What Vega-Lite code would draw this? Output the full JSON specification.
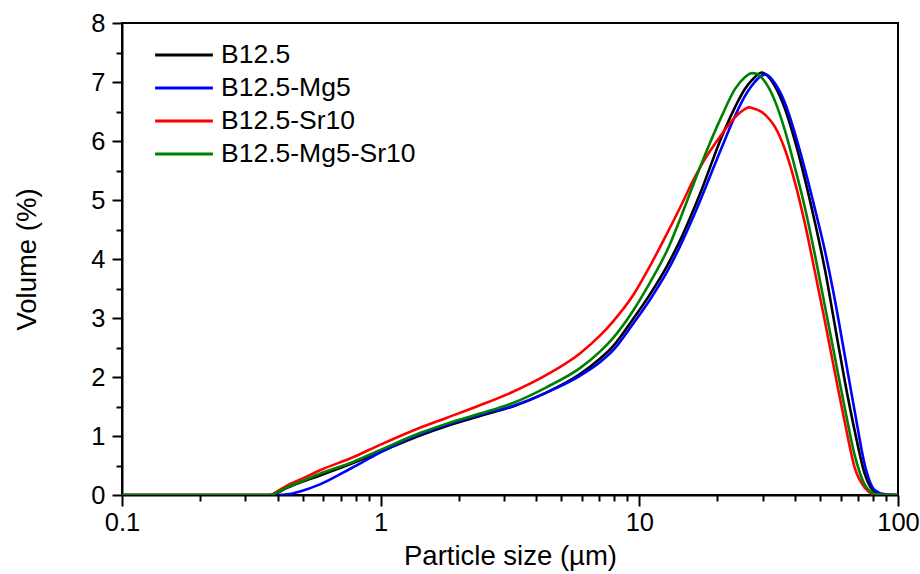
{
  "$schema": "https://vega.github.io/schema/vega-lite/v6.json",
  "width": 776,
  "height": 472,
  "autosize": {"type": "none"},
  "padding": {"left": 122, "top": 23, "right": 22, "bottom": 79},
  "background": "white",
  "config": {
    "font": "Liberation Sans",
    "view": {"stroke": "black", "strokeWidth": 2},
    "axis": {
      "domainColor": "black", "domainWidth": 2, "tickColor": "black", "tickWidth": 2,
      "labelColor": "black", "labelFontSize": 25.5, "labelFont": "Liberation Sans",
      "titleColor": "black", "titleFontSize": 27.5, "titleFontWeight": "normal", "titleFont": "Liberation Sans",
      "grid": false, "labelFlush": false, "labelOverlap": false
    }
  },
  "datasets": {
    "psd": [
      {"sample": "B12.5", "size": 0.1, "volume": 0},
      {"sample": "B12.5", "size": 0.3733, "volume": 0},
      {"sample": "B12.5", "size": 0.4009, "volume": 0.04},
      {"sample": "B12.5", "size": 0.4343, "volume": 0.12},
      {"sample": "B12.5", "size": 0.4877, "volume": 0.21},
      {"sample": "B12.5", "size": 0.5825, "volume": 0.33},
      {"sample": "B12.5", "size": 0.7815, "volume": 0.54},
      {"sample": "B12.5", "size": 0.9938, "volume": 0.73},
      {"sample": "B12.5", "size": 1.419, "volume": 1.01},
      {"sample": "B12.5", "size": 1.804, "volume": 1.17},
      {"sample": "B12.5", "size": 2.42, "volume": 1.34},
      {"sample": "B12.5", "size": 3.246, "volume": 1.5},
      {"sample": "B12.5", "size": 4.393, "volume": 1.74},
      {"sample": "B12.5", "size": 5.894, "volume": 2.05},
      {"sample": "B12.5", "size": 7.041, "volume": 2.31},
      {"sample": "B12.5", "size": 7.907, "volume": 2.52},
      {"sample": "B12.5", "size": 9.447, "volume": 2.98},
      {"sample": "B12.5", "size": 10.99, "volume": 3.4},
      {"sample": "B12.5", "size": 12.79, "volume": 3.88},
      {"sample": "B12.5", "size": 14.74, "volume": 4.42},
      {"sample": "B12.5", "size": 15.97, "volume": 4.77},
      {"sample": "B12.5", "size": 17.15, "volume": 5.1},
      {"sample": "B12.5", "size": 20.86, "volume": 6.08},
      {"sample": "B12.5", "size": 23.42, "volume": 6.57},
      {"sample": "B12.5", "size": 25.59, "volume": 6.88},
      {"sample": "B12.5", "size": 27.24, "volume": 7.03},
      {"sample": "B12.5", "size": 29.78, "volume": 7.16},
      {"sample": "B12.5", "size": 31.95, "volume": 7.06},
      {"sample": "B12.5", "size": 33.43, "volume": 6.93},
      {"sample": "B12.5", "size": 34.95, "volume": 6.76},
      {"sample": "B12.5", "size": 36.54, "volume": 6.55},
      {"sample": "B12.5", "size": 39.95, "volume": 6.0},
      {"sample": "B12.5", "size": 43.67, "volume": 5.35},
      {"sample": "B12.5", "size": 47.74, "volume": 4.62},
      {"sample": "B12.5", "size": 52.18, "volume": 3.82},
      {"sample": "B12.5", "size": 57.04, "volume": 2.87},
      {"sample": "B12.5", "size": 62.35, "volume": 1.92},
      {"sample": "B12.5", "size": 68.15, "volume": 1.07},
      {"sample": "B12.5", "size": 74.5, "volume": 0.35},
      {"sample": "B12.5", "size": 81.43, "volume": 0.05},
      {"sample": "B12.5", "size": 89.02, "volume": 0},
      {"sample": "B12.5", "size": 100, "volume": 0},

      {"sample": "B12.5-Mg5", "size": 0.1, "volume": 0},
      {"sample": "B12.5-Mg5", "size": 0.4009, "volume": 0},
      {"sample": "B12.5-Mg5", "size": 0.4343, "volume": 0.01},
      {"sample": "B12.5-Mg5", "size": 0.4877, "volume": 0.06},
      {"sample": "B12.5-Mg5", "size": 0.5825, "volume": 0.18},
      {"sample": "B12.5-Mg5", "size": 0.7815, "volume": 0.47},
      {"sample": "B12.5-Mg5", "size": 0.9938, "volume": 0.72},
      {"sample": "B12.5-Mg5", "size": 1.419, "volume": 1.03},
      {"sample": "B12.5-Mg5", "size": 1.804, "volume": 1.19},
      {"sample": "B12.5-Mg5", "size": 2.42, "volume": 1.36},
      {"sample": "B12.5-Mg5", "size": 3.246, "volume": 1.51},
      {"sample": "B12.5-Mg5", "size": 4.393, "volume": 1.74},
      {"sample": "B12.5-Mg5", "size": 5.894, "volume": 2.02},
      {"sample": "B12.5-Mg5", "size": 7.041, "volume": 2.25},
      {"sample": "B12.5-Mg5", "size": 7.907, "volume": 2.45},
      {"sample": "B12.5-Mg5", "size": 9.447, "volume": 2.9},
      {"sample": "B12.5-Mg5", "size": 10.99, "volume": 3.31},
      {"sample": "B12.5-Mg5", "size": 12.79, "volume": 3.78},
      {"sample": "B12.5-Mg5", "size": 14.74, "volume": 4.32},
      {"sample": "B12.5-Mg5", "size": 15.97, "volume": 4.66},
      {"sample": "B12.5-Mg5", "size": 17.15, "volume": 4.98},
      {"sample": "B12.5-Mg5", "size": 20.86, "volume": 5.9},
      {"sample": "B12.5-Mg5", "size": 23.42, "volume": 6.42},
      {"sample": "B12.5-Mg5", "size": 25.59, "volume": 6.76},
      {"sample": "B12.5-Mg5", "size": 27.24, "volume": 6.94},
      {"sample": "B12.5-Mg5", "size": 29.78, "volume": 7.11},
      {"sample": "B12.5-Mg5", "size": 30.58, "volume": 7.13},
      {"sample": "B12.5-Mg5", "size": 33.43, "volume": 6.98},
      {"sample": "B12.5-Mg5", "size": 36.54, "volume": 6.65},
      {"sample": "B12.5-Mg5", "size": 39.95, "volume": 6.13},
      {"sample": "B12.5-Mg5", "size": 43.67, "volume": 5.52},
      {"sample": "B12.5-Mg5", "size": 47.74, "volume": 4.85},
      {"sample": "B12.5-Mg5", "size": 52.18, "volume": 4.14},
      {"sample": "B12.5-Mg5", "size": 57.04, "volume": 3.3},
      {"sample": "B12.5-Mg5", "size": 62.35, "volume": 2.35},
      {"sample": "B12.5-Mg5", "size": 68.15, "volume": 1.4},
      {"sample": "B12.5-Mg5", "size": 74.5, "volume": 0.5},
      {"sample": "B12.5-Mg5", "size": 81.43, "volume": 0.08},
      {"sample": "B12.5-Mg5", "size": 89.02, "volume": 0.01},
      {"sample": "B12.5-Mg5", "size": 100, "volume": 0},

      {"sample": "B12.5-Sr10", "size": 0.1, "volume": 0},
      {"sample": "B12.5-Sr10", "size": 0.3733, "volume": 0},
      {"sample": "B12.5-Sr10", "size": 0.4009, "volume": 0.07},
      {"sample": "B12.5-Sr10", "size": 0.4343, "volume": 0.16},
      {"sample": "B12.5-Sr10", "size": 0.4877, "volume": 0.26},
      {"sample": "B12.5-Sr10", "size": 0.5825, "volume": 0.42},
      {"sample": "B12.5-Sr10", "size": 0.7815, "volume": 0.64},
      {"sample": "B12.5-Sr10", "size": 0.9938, "volume": 0.85},
      {"sample": "B12.5-Sr10", "size": 1.419, "volume": 1.14},
      {"sample": "B12.5-Sr10", "size": 1.804, "volume": 1.31},
      {"sample": "B12.5-Sr10", "size": 2.42, "volume": 1.52},
      {"sample": "B12.5-Sr10", "size": 3.246, "volume": 1.75},
      {"sample": "B12.5-Sr10", "size": 4.393, "volume": 2.04},
      {"sample": "B12.5-Sr10", "size": 5.894, "volume": 2.4},
      {"sample": "B12.5-Sr10", "size": 7.041, "volume": 2.7},
      {"sample": "B12.5-Sr10", "size": 7.907, "volume": 2.94},
      {"sample": "B12.5-Sr10", "size": 9.447, "volume": 3.38},
      {"sample": "B12.5-Sr10", "size": 10.99, "volume": 3.88},
      {"sample": "B12.5-Sr10", "size": 12.79, "volume": 4.43},
      {"sample": "B12.5-Sr10", "size": 14.74, "volume": 4.97},
      {"sample": "B12.5-Sr10", "size": 15.97, "volume": 5.29},
      {"sample": "B12.5-Sr10", "size": 17.15, "volume": 5.55},
      {"sample": "B12.5-Sr10", "size": 20.86, "volume": 6.12},
      {"sample": "B12.5-Sr10", "size": 23.42, "volume": 6.4},
      {"sample": "B12.5-Sr10", "size": 25.59, "volume": 6.54},
      {"sample": "B12.5-Sr10", "size": 26.53, "volume": 6.57},
      {"sample": "B12.5-Sr10", "size": 27.24, "volume": 6.56},
      {"sample": "B12.5-Sr10", "size": 29.78, "volume": 6.49},
      {"sample": "B12.5-Sr10", "size": 31.95, "volume": 6.36},
      {"sample": "B12.5-Sr10", "size": 33.43, "volume": 6.24},
      {"sample": "B12.5-Sr10", "size": 36.54, "volume": 5.86},
      {"sample": "B12.5-Sr10", "size": 39.95, "volume": 5.3},
      {"sample": "B12.5-Sr10", "size": 43.67, "volume": 4.6},
      {"sample": "B12.5-Sr10", "size": 47.74, "volume": 3.78},
      {"sample": "B12.5-Sr10", "size": 52.18, "volume": 2.94},
      {"sample": "B12.5-Sr10", "size": 57.04, "volume": 2.07},
      {"sample": "B12.5-Sr10", "size": 62.35, "volume": 1.22},
      {"sample": "B12.5-Sr10", "size": 68.15, "volume": 0.45},
      {"sample": "B12.5-Sr10", "size": 74.5, "volume": 0.12},
      {"sample": "B12.5-Sr10", "size": 81.43, "volume": 0.01},
      {"sample": "B12.5-Sr10", "size": 89.02, "volume": 0},
      {"sample": "B12.5-Sr10", "size": 100, "volume": 0},

      {"sample": "B12.5-Mg5-Sr10", "size": 0.1, "volume": 0},
      {"sample": "B12.5-Mg5-Sr10", "size": 0.3733, "volume": 0},
      {"sample": "B12.5-Mg5-Sr10", "size": 0.4009, "volume": 0.05},
      {"sample": "B12.5-Mg5-Sr10", "size": 0.4343, "volume": 0.13},
      {"sample": "B12.5-Mg5-Sr10", "size": 0.4877, "volume": 0.22},
      {"sample": "B12.5-Mg5-Sr10", "size": 0.5825, "volume": 0.36},
      {"sample": "B12.5-Mg5-Sr10", "size": 0.7815, "volume": 0.56},
      {"sample": "B12.5-Mg5-Sr10", "size": 0.9938, "volume": 0.76},
      {"sample": "B12.5-Mg5-Sr10", "size": 1.419, "volume": 1.05},
      {"sample": "B12.5-Mg5-Sr10", "size": 1.804, "volume": 1.21},
      {"sample": "B12.5-Mg5-Sr10", "size": 2.42, "volume": 1.38},
      {"sample": "B12.5-Mg5-Sr10", "size": 3.246, "volume": 1.56},
      {"sample": "B12.5-Mg5-Sr10", "size": 4.393, "volume": 1.83},
      {"sample": "B12.5-Mg5-Sr10", "size": 5.894, "volume": 2.15},
      {"sample": "B12.5-Mg5-Sr10", "size": 7.041, "volume": 2.43},
      {"sample": "B12.5-Mg5-Sr10", "size": 7.907, "volume": 2.66},
      {"sample": "B12.5-Mg5-Sr10", "size": 9.447, "volume": 3.12},
      {"sample": "B12.5-Mg5-Sr10", "size": 10.99, "volume": 3.6},
      {"sample": "B12.5-Mg5-Sr10", "size": 12.79, "volume": 4.14},
      {"sample": "B12.5-Mg5-Sr10", "size": 14.74, "volume": 4.8},
      {"sample": "B12.5-Mg5-Sr10", "size": 15.97, "volume": 5.2},
      {"sample": "B12.5-Mg5-Sr10", "size": 17.15, "volume": 5.55},
      {"sample": "B12.5-Mg5-Sr10", "size": 20.86, "volume": 6.43},
      {"sample": "B12.5-Mg5-Sr10", "size": 23.42, "volume": 6.88},
      {"sample": "B12.5-Mg5-Sr10", "size": 25.59, "volume": 7.08},
      {"sample": "B12.5-Mg5-Sr10", "size": 27.24, "volume": 7.15},
      {"sample": "B12.5-Mg5-Sr10", "size": 28.5, "volume": 7.14},
      {"sample": "B12.5-Mg5-Sr10", "size": 29.78, "volume": 7.07},
      {"sample": "B12.5-Mg5-Sr10", "size": 31.95, "volume": 6.87},
      {"sample": "B12.5-Mg5-Sr10", "size": 33.43, "volume": 6.68},
      {"sample": "B12.5-Mg5-Sr10", "size": 36.54, "volume": 6.18},
      {"sample": "B12.5-Mg5-Sr10", "size": 39.95, "volume": 5.55},
      {"sample": "B12.5-Mg5-Sr10", "size": 43.67, "volume": 4.87},
      {"sample": "B12.5-Mg5-Sr10", "size": 47.74, "volume": 4.07},
      {"sample": "B12.5-Mg5-Sr10", "size": 52.18, "volume": 3.2},
      {"sample": "B12.5-Mg5-Sr10", "size": 57.04, "volume": 2.33},
      {"sample": "B12.5-Mg5-Sr10", "size": 62.35, "volume": 1.46},
      {"sample": "B12.5-Mg5-Sr10", "size": 68.15, "volume": 0.66},
      {"sample": "B12.5-Mg5-Sr10", "size": 74.5, "volume": 0.17},
      {"sample": "B12.5-Mg5-Sr10", "size": 81.43, "volume": 0.02},
      {"sample": "B12.5-Mg5-Sr10", "size": 89.02, "volume": 0},
      {"sample": "B12.5-Mg5-Sr10", "size": 100, "volume": 0}
    ]
  },
  "data": {"name": "psd"},
  "mark": {"type": "line", "strokeWidth": 2.6, "interpolate": "monotone", "clip": true},
  "encoding": {
    "x": {
      "field": "size", "type": "quantitative",
      "scale": {"type": "log", "domain": [0.1, 100], "nice": false},
      "axis": {
        "title": "Particle size (µm)",
        "values": [0.1, 0.2, 0.3, 0.4, 0.5, 0.6, 0.7, 0.8, 0.9, 1, 2, 3, 4, 5, 6, 7, 8, 9, 10, 20, 30, 40, 50, 60, 70, 80, 90, 100],
        "labelExpr": "abs(log(datum.value)/LN10 - round(log(datum.value)/LN10)) < 0.001 ? format(datum.value, '~g') : ''",
        "tickSize": {"condition": {"test": "abs(log(datum.value)/LN10 - round(log(datum.value)/LN10)) < 0.001", "value": 11}, "value": 6},
        "labelPadding": 4,
        "titlePadding": 7
      }
    },
    "y": {
      "field": "volume", "type": "quantitative",
      "scale": {"domain": [0, 8], "nice": false},
      "axis": {
        "title": "Volume (%)",
        "values": [0, 0.5, 1, 1.5, 2, 2.5, 3, 3.5, 4, 4.5, 5, 5.5, 6, 6.5, 7, 7.5, 8],
        "labelExpr": "datum.value % 1 == 0 ? format(datum.value, 'd') : ''",
        "tickSize": {"condition": {"test": "datum.value % 1 == 0", "value": 10}, "value": 6},
        "labelPadding": 7,
        "titlePadding": 49
      }
    },
    "color": {
      "field": "sample", "type": "nominal",
      "scale": {"domain": ["B12.5", "B12.5-Mg5", "B12.5-Sr10", "B12.5-Mg5-Sr10"], "range": ["#000000", "#0000ff", "#ff0000", "#008000"]},
      "legend": {
        "orient": "none", "legendX": 43, "legendY": 13,
        "title": null, "symbolType": "M-1.7,0H1.7", "symbolSize": 1156, "symbolStrokeWidth": 3.2,
        "labelFontSize": 26.5, "labelColor": "black", "labelFont": "Liberation Sans", "labelOffset": 18,
        "rowPadding": -1, "padding": 0, "labelLimit": 400
      }
    }
  }
}
